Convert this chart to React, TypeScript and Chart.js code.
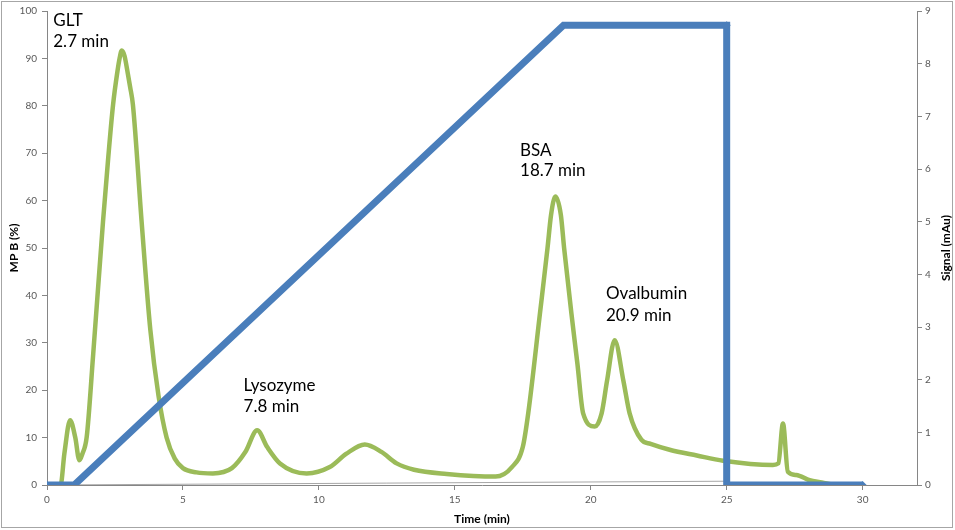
import React, { useEffect, useRef } from 'react';
import { Chart, registerables } from 'chart.js';

Chart.register(...registerables);

// gradient program, % mobile phase B
const gradientTimes = [0, 1.0, 19.0, 25, 25, 30];
const gradientValues = [0, 0, 97, 97, 0, 0];

// detector trace, mAu
const signalTimes = [
  0, 0.5, 0.64, 0.85, 1.04, 1.19, 1.3, 1.46, 1.7, 2.06, 2.25, 2.43, 2.59, 2.67, 2.75, 2.85,
  2.96, 3.06, 3.16, 3.48, 3.8, 4.1, 4.4, 4.7, 5.0, 5.5, 6.1, 6.8, 7.3, 7.73, 8.1, 8.57,
  9.55, 10.4, 11.0, 11.69, 12.3, 12.86, 13.5, 14.7, 16.5, 17.1, 17.5, 17.7, 18.13, 18.41,
  18.54, 18.7, 18.9, 19.02, 19.29, 19.51, 19.72, 20.15, 20.4, 20.6, 20.88, 21.2, 21.43, 21.86,
  22.2, 22.9, 23.9, 24.87, 26.7, 26.9, 27.07, 27.25, 27.56, 28.05, 28.5, 29, 30,
];
const signalValues = [
  0, 0, 0.6, 1.23, 0.9, 0.47, 0.59, 0.91, 2.49, 5.0, 6.2, 7.22, 7.85, 8.1, 8.25, 8.15,
  7.85, 7.55, 7.22, 5.0, 2.95, 1.7, 0.9, 0.5, 0.32, 0.24, 0.22, 0.32, 0.63, 1.04, 0.72, 0.41,
  0.22, 0.34, 0.59, 0.77, 0.63, 0.41, 0.29, 0.21, 0.16, 0.34, 0.72, 1.36, 3.25, 4.5,
  5.13, 5.48, 5.13, 4.5, 3.25, 2.3, 1.36, 1.11, 1.36, 1.98, 2.75, 1.98, 1.36, 0.86,
  0.78, 0.67, 0.56, 0.46, 0.38, 0.41, 1.17, 0.25, 0.19, 0.09, 0.05, 0, 0,
];

// faint grey baseline series
const baselineTimes = [0, 25];
const baselineValues = [0, 0.8];

// peak labels: [time, %B of first baseline, %B of second baseline, lines]
const peakLabels: [number, number, number, string[]][] = [
  [0.23, 96.8, 92.4, ['GLT', '2.7 min']],
  [7.23, 19.8, 15.3, ['Lysozyme', '7.8 min']],
  [17.4, 69.5, 65.1, ['BSA', '18.7 min']],
  [20.56, 39.3, 34.7, ['Ovalbumin', '20.9 min']],
];

const FONT = 'Lato, "Open Sans", sans-serif';

const toPoints = (xs: number[], ys: number[]) => xs.map((x, i) => ({ x, y: ys[i] }));

const extras = {
  id: 'extras',
  beforeDraw(chart: any) {
    const { ctx } = chart;
    ctx.save();
    ctx.strokeStyle = '#a6a6a6';
    ctx.lineWidth = 1;
    ctx.strokeRect(1.5, 1.5, 951, 526);
    ctx.restore();
  },
  afterDraw(chart: any) {
    const { ctx, chartArea } = chart;
    const x = chart.scales.x;
    const y = chart.scales.y;
    ctx.save();
    ctx.fillStyle = '#000';
    ctx.font = `17px ${FONT}`;
    ctx.textAlign = 'left';
    ctx.textBaseline = 'alphabetic';
    peakLabels.forEach(([t, y1, y2, lines]) => {
      ctx.fillText(lines[0], x.getPixelForValue(t), y.getPixelForValue(y1));
      ctx.fillText(lines[1], x.getPixelForValue(t), y.getPixelForValue(y2));
    });

    ctx.font = `bold 12px ${FONT}`;
    ctx.textAlign = 'center';
    ctx.textBaseline = 'middle';
    ctx.fillText('Time (min)', (chartArea.left + chartArea.right) / 2, 519);
    const midY = (chartArea.top + chartArea.bottom) / 2;
    const dpr = chart.currentDevicePixelRatio || 1;
    ctx.translate(14.5, midY);
    ctx.rotate(-Math.PI / 2);
    ctx.fillText('MP B (%)', 0, 0);
    ctx.setTransform(dpr, 0, 0, dpr, 0, 0);
    ctx.translate(946, midY);
    ctx.rotate(-Math.PI / 2);
    ctx.fillText('Signal (mAu)', 0, 0);
    ctx.restore();
  },
};

const tickFont = { family: FONT, size: 10 };
const axisGrid = { drawOnChartArea: false, drawTicks: true, tickLength: 5, color: '#868686' };
const axisBorder = { color: '#868686', width: 1 };

const App: React.FC = () => {
  const canvasRef = useRef<HTMLCanvasElement>(null);
  const chartRef = useRef<Chart | null>(null);

  useEffect(() => {
    document.body.style.margin = '0';
    if (!canvasRef.current) return;
    const ctx = canvasRef.current.getContext('2d');
    if (!ctx) return;
    if (chartRef.current) chartRef.current.destroy();

    chartRef.current = new Chart(ctx, {
      type: 'line',
      data: {
        datasets: [
          {
            label: 'MP B (%)',
            data: toPoints(gradientTimes, gradientValues),
            yAxisID: 'y',
            borderColor: '#4a7ebb',
            backgroundColor: '#4a7ebb',
            borderWidth: 7,
            pointStyle: 'rectRot',
            pointRadius: [4, 0, 0, 4, 0, 4],
            pointBorderWidth: 0,
            tension: 0,
            order: 0,
          },
          {
            label: 'Signal (mAu)',
            data: toPoints(signalTimes, signalValues),
            yAxisID: 'y1',
            borderColor: '#9bbb59',
            borderWidth: 4.5,
            pointRadius: 0,
            cubicInterpolationMode: 'monotone',
            order: 1,
          },
          {
            label: 'baseline',
            data: toPoints(baselineTimes, baselineValues),
            yAxisID: 'y',
            borderColor: '#a6a6a6',
            borderWidth: 1,
            pointRadius: 0,
            order: 2,
          },
        ],
      },
      options: {
        animation: false,
        responsive: true,
        maintainAspectRatio: false,
        layout: { padding: { top: 9, left: 0, right: 0, bottom: 0 } },
        plugins: {
          legend: { display: false },
          tooltip: { enabled: false },
        },
        scales: {
          x: {
            type: 'linear',
            min: 0,
            max: 32,
            ticks: { stepSize: 5, includeBounds: false, font: tickFont, color: '#595959', padding: 4, maxRotation: 0 },
            grid: axisGrid,
            border: axisBorder,
            afterFit: (s: any) => { s.height = 45; },
          },
          y: {
            position: 'left',
            min: 0,
            max: 100,
            ticks: { stepSize: 10, font: tickFont, color: '#595959', padding: 5 },
            grid: axisGrid,
            border: axisBorder,
            afterFit: (s: any) => { s.width = 47; },
          },
          y1: {
            position: 'right',
            min: 0,
            max: 9,
            ticks: { stepSize: 1, font: tickFont, color: '#595959', padding: 3 },
            grid: axisGrid,
            border: axisBorder,
            afterFit: (s: any) => { s.width = 38; },
          },
        },
      },
      plugins: [extras],
    } as any);

    return () => {
      if (chartRef.current) {
        chartRef.current.destroy();
        chartRef.current = null;
      }
    };
  }, []);

  return (
    <div style={{ position: 'absolute', left: 0, top: 0, width: 955, height: 530, background: '#fff' }}>
      <canvas ref={canvasRef}></canvas>
    </div>
  );
};

export default App;
